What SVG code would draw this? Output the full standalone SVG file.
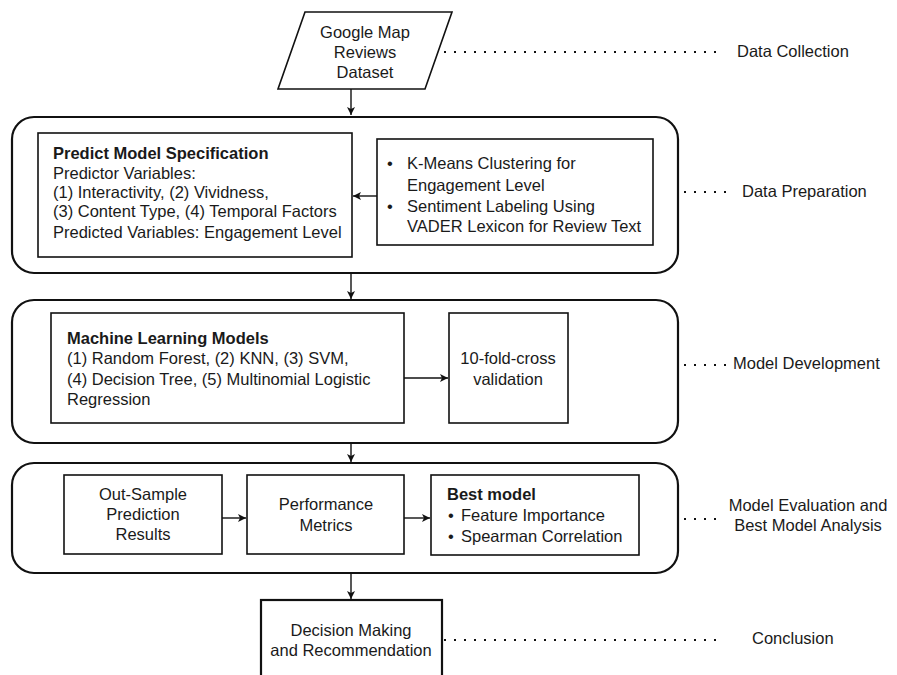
<svg xmlns="http://www.w3.org/2000/svg" width="897" height="675" viewBox="0 0 897 675">
<defs>
<marker id="ah" markerWidth="10" markerHeight="10" refX="9" refY="5" orient="auto" markerUnits="userSpaceOnUse">
<path d="M1,1 L9,5 L1,9 L3,5 Z" fill="#111"/>
</marker>
<style>
text{font-family:"Liberation Sans",Arial,sans-serif;font-size:16.5px;fill:#1a1a1a}
.b{font-weight:bold}
.c{text-anchor:middle}
.cont{fill:none;stroke:#111;stroke-width:2.2}
.box{fill:#fff;stroke:#111;stroke-width:1.6}
.conn{fill:none;stroke:#111;stroke-width:1.4}
.dot{fill:none;stroke:#111;stroke-width:2;stroke-dasharray:2 8}
</style>
</defs>
<rect width="897" height="675" fill="#fff"/>

<g id="containers">
<rect id="stage-prep" class="cont" x="12" y="117" width="666" height="156" rx="22"/>
<rect id="stage-dev" class="cont" x="12" y="300" width="666" height="143" rx="22"/>
<rect id="stage-eval" class="cont" x="12" y="463" width="666" height="110" rx="22"/>
</g>

<g id="connectors">
<line class="conn" x1="351" y1="89" x2="351" y2="115" marker-end="url(#ah)"/>
<line class="conn" x1="377" y1="196" x2="353" y2="196" marker-end="url(#ah)"/>
<line class="conn" x1="351" y1="273" x2="351" y2="299" marker-end="url(#ah)"/>
<line class="conn" x1="404" y1="378" x2="448" y2="378" marker-end="url(#ah)"/>
<line class="conn" x1="351" y1="443" x2="351" y2="462" marker-end="url(#ah)"/>
<line class="conn" x1="222" y1="518" x2="246" y2="518" marker-end="url(#ah)"/>
<line class="conn" x1="404" y1="518" x2="430" y2="518" marker-end="url(#ah)"/>
<line class="conn" x1="351" y1="573" x2="351" y2="599" marker-end="url(#ah)"/>
<line class="dot" x1="444" y1="52" x2="716" y2="52"/>
<line class="dot" x1="684" y1="192" x2="726" y2="192"/>
<line class="dot" x1="684" y1="365" x2="726" y2="365"/>
<line class="dot" x1="684" y1="519" x2="722" y2="519"/>
<line class="dot" x1="444" y1="640" x2="716" y2="640"/>
</g>

<g id="dataset">
<polygon class="box" points="305,12 452,12 425,89 278,89"/>
<text class="c" x="365" y="38">Google Map</text>
<text class="c" x="365" y="58">Reviews</text>
<text class="c" x="365" y="78">Dataset</text>
</g>

<g id="predict-spec">
<rect class="box" x="38" y="133" width="314" height="124"/>
<text class="b" x="53" y="159">Predict Model Specification</text>
<text x="53" y="179">Predictor Variables:</text>
<text x="53" y="198">(1) Interactivity, (2) Vividness,</text>
<text x="53" y="217">(3) Content Type, (4) Temporal Factors</text>
<text x="53" y="238">Predicted Variables: Engagement Level</text>
</g>

<g id="preprocessing">
<rect class="box" x="377" y="139" width="276" height="106"/>
<text x="387" y="169">•</text>
<text x="407" y="169">K-Means Clustering for</text>
<text x="407" y="191">Engagement Level</text>
<text x="387" y="212">•</text>
<text x="407" y="212">Sentiment Labeling Using</text>
<text x="407" y="232">VADER Lexicon for Review Text</text>
</g>

<g id="ml-models">
<rect class="box" x="51" y="313" width="353" height="110"/>
<text class="b" x="67" y="344">Machine Learning Models</text>
<text x="67" y="364">(1) Random Forest, (2) KNN, (3) SVM,</text>
<text x="67" y="385">(4) Decision Tree, (5) Multinomial Logistic</text>
<text x="67" y="405">Regression</text>
</g>

<g id="cross-validation">
<rect class="box" x="449" y="313" width="119" height="110"/>
<text class="c" x="508" y="364">10-fold-cross</text>
<text class="c" x="508" y="385">validation</text>
</g>

<g id="out-sample">
<rect class="box" x="64" y="475" width="158" height="79"/>
<text class="c" x="143" y="500">Out-Sample</text>
<text class="c" x="143" y="520">Prediction</text>
<text class="c" x="143" y="540">Results</text>
</g>

<g id="performance">
<rect class="box" x="247" y="475" width="157" height="79"/>
<text class="c" x="326" y="510">Performance</text>
<text class="c" x="326" y="531">Metrics</text>
</g>

<g id="best-model">
<rect class="box" x="431" y="475" width="208" height="80"/>
<text class="b" x="447" y="500">Best model</text>
<text x="448" y="521">•</text>
<text x="461" y="521">Feature Importance</text>
<text x="448" y="542">•</text>
<text x="461" y="542">Spearman Correlation</text>
</g>

<g id="decision">
<rect fill="#fff" stroke="#111" stroke-width="2.2" x="261" y="600" width="181" height="85"/>
<text class="c" x="351" y="636">Decision Making</text>
<text class="c" x="351" y="656">and Recommendation</text>
</g>

<g id="labels">
<text x="737" y="57">Data Collection</text>
<text x="742" y="197">Data Preparation</text>
<text x="733" y="369">Model Development</text>
<text class="c" x="808" y="511">Model Evaluation and</text>
<text class="c" x="808" y="531">Best Model Analysis</text>
<text x="752" y="644">Conclusion</text>
</g>
</svg>
